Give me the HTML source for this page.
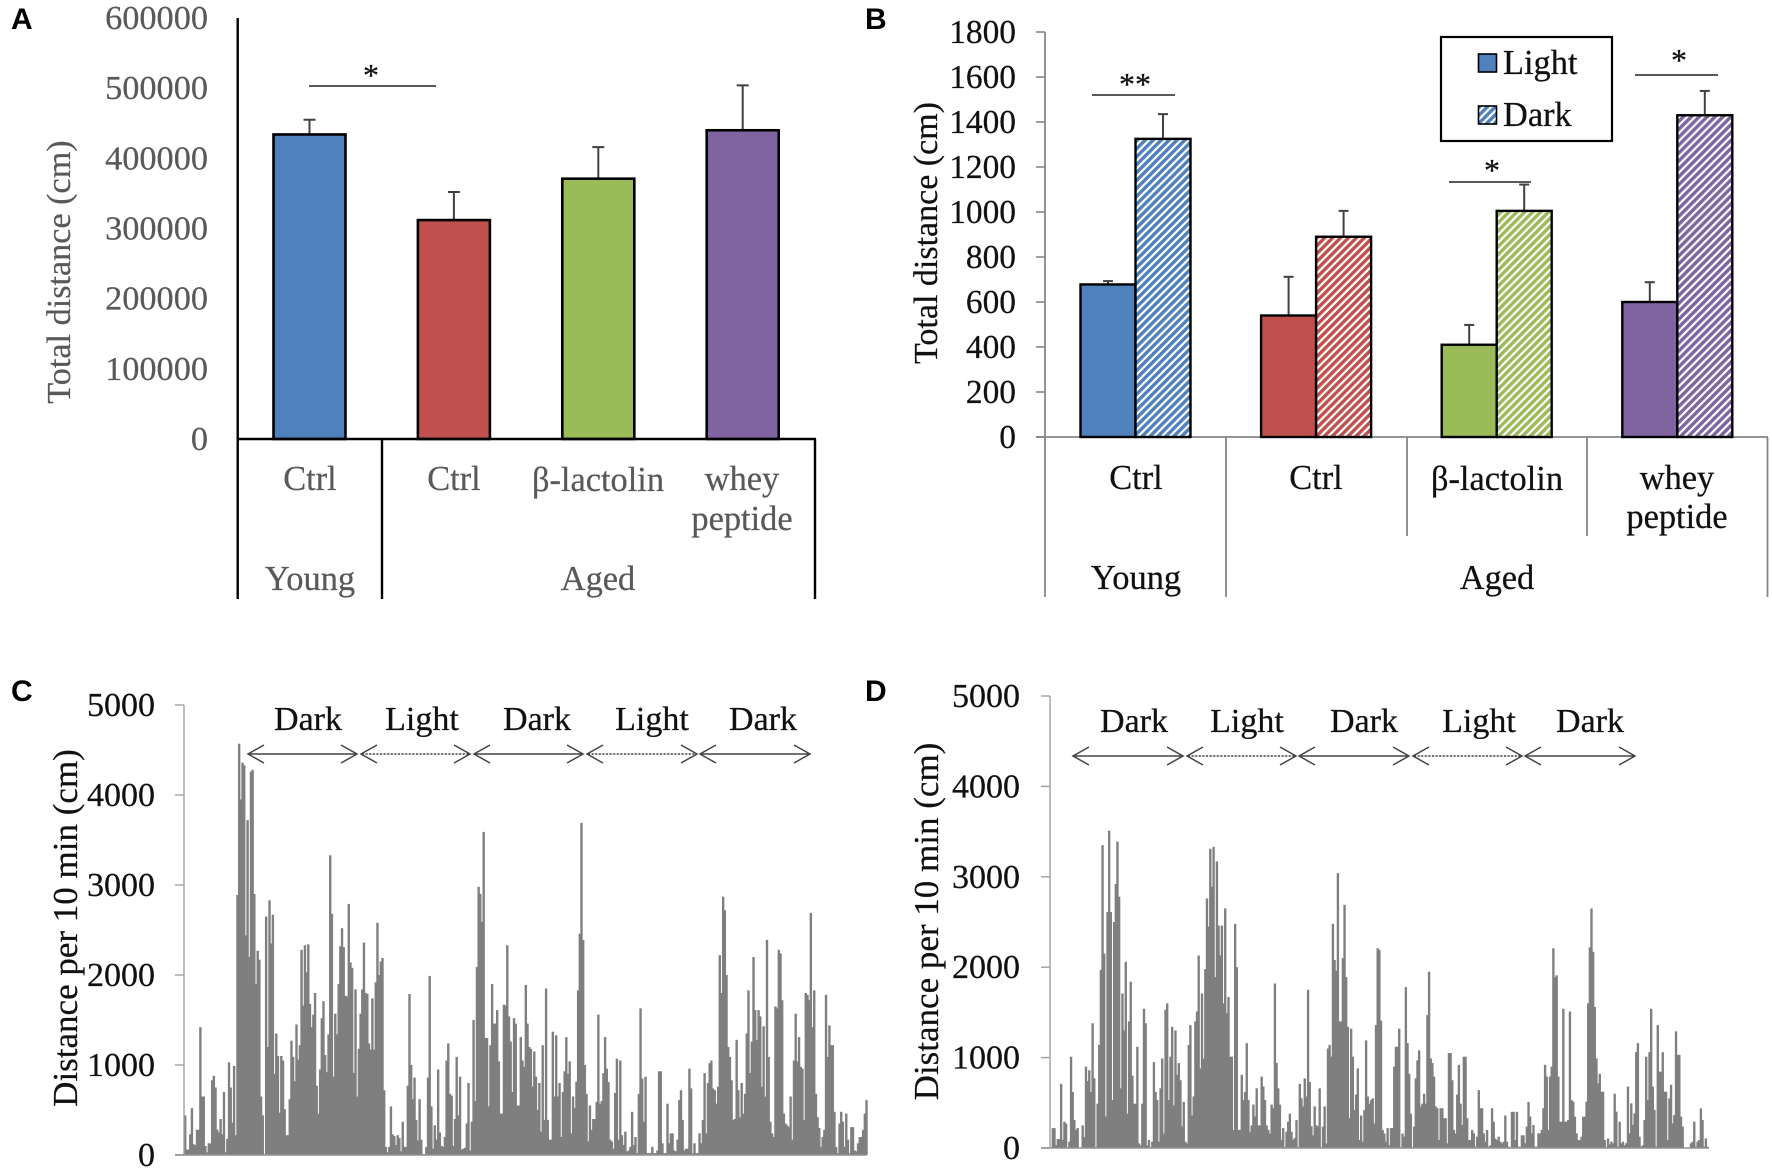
<!DOCTYPE html>
<html lang="en">
<head>
<meta charset="utf-8">
<title>Total distance and activity charts</title>
<style>
html,body{margin:0;padding:0;background:#fff;width:1772px;height:1170px;overflow:hidden}
svg{display:block}
text{font-family:"Liberation Serif",serif;stroke-width:0.25px}
.panel{font-family:"Liberation Sans",sans-serif;font-weight:bold;font-size:30px;fill:#000}
.ga{fill:#595959;stroke:#595959;font-size:34.4px}
.gb{fill:#111;stroke:#111;font-size:34.4px}
.ttl{fill:#595959;stroke:#595959;font-size:34.2px}
.ttb{fill:#111;stroke:#111;font-size:34px}
.dist{fill:#111;stroke:#111;font-size:35px}
.phase{fill:#111;stroke:#111;font-size:34px}
.mid{text-anchor:middle}
</style>
</head>
<body>
<svg id="fig" xmlns="http://www.w3.org/2000/svg" width="1772" height="1170" viewBox="0 0 1772 1170">
<defs>
<pattern id="hatch-0" patternUnits="userSpaceOnUse" width="5.6" height="5.6" patternTransform="rotate(-45)"><rect width="5.6" height="5.6" fill="#fff"/><rect width="5.6" height="3.4" fill="#4f81bd"/></pattern>
<pattern id="hatch-1" patternUnits="userSpaceOnUse" width="5.6" height="5.6" patternTransform="rotate(-45)"><rect width="5.6" height="5.6" fill="#fff"/><rect width="5.6" height="3.4" fill="#c0504d"/></pattern>
<pattern id="hatch-2" patternUnits="userSpaceOnUse" width="5.6" height="5.6" patternTransform="rotate(-45)"><rect width="5.6" height="5.6" fill="#fff"/><rect width="5.6" height="3.4" fill="#9bbb59"/></pattern>
<pattern id="hatch-3" patternUnits="userSpaceOnUse" width="5.6" height="5.6" patternTransform="rotate(-45)"><rect width="5.6" height="5.6" fill="#fff"/><rect width="5.6" height="3.4" fill="#8064a2"/></pattern>
</defs>

<!-- Panel A -->
<g id="panel-a">
  <text class="panel" x="11" y="29">A</text>
  <g id="a-ticks"></g>
  <text class="ttl mid" transform="translate(70,272) rotate(-90)">Total distance (cm)</text>
  <g id="a-bars"></g>
  <g stroke="#000" stroke-width="2.4" fill="none">
    <line x1="237.7" y1="18" x2="237.7" y2="599"/>
    <line x1="236.5" y1="439" x2="816" y2="439"/>
    <line x1="382" y1="439" x2="382" y2="599"/>
    <line x1="815" y1="439" x2="815" y2="599"/>
  </g>
  <text class="ga mid" x="310" y="490">Ctrl</text>
  <text class="ga mid" x="454" y="490">Ctrl</text>
  <text class="ga mid" x="598" y="491">β-lactolin</text>
  <text class="ga mid" x="742" y="490">whey</text>
  <text class="ga mid" x="742" y="530">peptide</text>
  <text class="ga mid" x="310" y="590">Young</text>
  <text class="ga mid" x="598" y="590">Aged</text>
  <line x1="309" y1="86" x2="436" y2="86" stroke="#222" stroke-width="1.6"/>
  <text class="mid" x="371" y="86" font-size="32" fill="#111" stroke="#111">*</text>
</g>

<!-- Panel B -->
<g id="panel-b">
  <text class="panel" x="865" y="29">B</text>
  <g id="b-ticks"></g>
  <text class="ttb mid" transform="translate(937,233) rotate(-90)">Total distance (cm)</text>
  <g stroke="#868686" stroke-width="1.8" fill="none">
    <line x1="1045" y1="32" x2="1045" y2="597"/>
    <line x1="1036" y1="437" x2="1768" y2="437"/>
    <line x1="1226" y1="437" x2="1226" y2="597"/>
    <line x1="1407" y1="437" x2="1407" y2="536"/>
    <line x1="1587" y1="437" x2="1587" y2="536"/>
    <line x1="1767.5" y1="437" x2="1767.5" y2="597"/>
  </g>
  <g id="b-bars"></g>
  <text class="gb mid" x="1136" y="489">Ctrl</text>
  <text class="gb mid" x="1316" y="489">Ctrl</text>
  <text class="gb mid" x="1497" y="490">β-lactolin</text>
  <text class="gb mid" x="1677" y="489">whey</text>
  <text class="gb mid" x="1677" y="528">peptide</text>
  <text class="gb mid" x="1136" y="589">Young</text>
  <text class="gb mid" x="1497" y="589">Aged</text>
  <g>
    <rect x="1441" y="37" width="171" height="104" fill="#fff" stroke="#000" stroke-width="2.2"/>
    <rect x="1478.5" y="54" width="18" height="18" fill="#4f81bd" stroke="#000" stroke-width="1.6"/>
    <text x="1503" y="74" font-size="34.4" fill="#111" stroke="#111">Light</text>
    <rect x="1478.5" y="106" width="18" height="18" fill="url(#hatch-0)" stroke="#000" stroke-width="1.6"/>
    <text x="1503" y="126" font-size="34.4" fill="#111" stroke="#111">Dark</text>
  </g>
  <line x1="1092" y1="95" x2="1175" y2="95" stroke="#222" stroke-width="1.6"/>
  <text class="mid" x="1135" y="95" font-size="32" fill="#111" stroke="#111">**</text>
  <line x1="1449" y1="182" x2="1531" y2="182" stroke="#222" stroke-width="1.6"/>
  <text class="mid" x="1492" y="181" font-size="32" fill="#111" stroke="#111">*</text>
  <line x1="1635" y1="75" x2="1718" y2="75" stroke="#222" stroke-width="1.6"/>
  <text class="mid" x="1679" y="71" font-size="32" fill="#111" stroke="#111">*</text>
</g>

<!-- Panel C -->
<g id="panel-c">
  <text class="panel" x="11" y="701">C</text>
  <g id="c-bars"></g>
  <g id="c-ticks"></g>
  <text class="dist mid" transform="translate(77,928) rotate(-90)">Distance per 10 min (cm)</text>
  <line x1="184" y1="705" x2="184" y2="1155" stroke="#a0a0a0" stroke-width="1.4"/>
  <line x1="175" y1="1155" x2="867" y2="1155" stroke="#909090" stroke-width="1.4"/>
  <text class="phase mid" x="308" y="730">Dark</text>
  <text class="phase mid" x="422" y="730">Light</text>
  <text class="phase mid" x="537" y="730">Dark</text>
  <text class="phase mid" x="652" y="730">Light</text>
  <text class="phase mid" x="763" y="730">Dark</text>
  <g fill="none" stroke="#444" stroke-width="1.5">
    <path d="M264 745 L248 754 L264 763 M248 754 H357 M341 745 L357 754 L341 763"/>
    <path d="M377 745 L361 754 L377 763 M361 754 H470 M454 745 L470 754 L454 763"/>
    <path d="M490 745 L474 754 L490 763 M474 754 H583 M567 745 L583 754 L567 763"/>
    <path d="M603 745 L587 754 L603 763 M587 754 H697 M681 745 L697 754 L681 763"/>
    <path d="M716 745 L700 754 L716 763 M700 754 H810 M794 745 L810 754 L794 763"/>
  </g>
  <g stroke="#fff" stroke-width="1.6" stroke-dasharray="1.6 2">
    <line x1="364" y1="754" x2="468" y2="754"/>
    <line x1="590" y1="754" x2="695" y2="754"/>
  </g>
</g>

<!-- Panel D -->
<g id="panel-d">
  <text class="panel" x="865" y="701">D</text>
  <g id="d-bars"></g>
  <g id="d-ticks"></g>
  <text class="dist mid" transform="translate(938,921.5) rotate(-90)">Distance per 10 min (cm)</text>
  <line x1="1050" y1="696" x2="1050" y2="1148" stroke="#a0a0a0" stroke-width="1.4"/>
  <line x1="1041" y1="1148" x2="1709" y2="1148" stroke="#909090" stroke-width="1.4"/>
  <text class="phase mid" x="1134" y="732">Dark</text>
  <text class="phase mid" x="1247" y="732">Light</text>
  <text class="phase mid" x="1364" y="732">Dark</text>
  <text class="phase mid" x="1479" y="732">Light</text>
  <text class="phase mid" x="1590" y="732">Dark</text>
  <g fill="none" stroke="#444" stroke-width="1.5">
    <path d="M1089 747 L1073 756 L1089 765 M1073 756 H1183 M1167 747 L1183 756 L1167 765"/>
    <path d="M1203 747 L1187 756 L1203 765 M1187 756 H1296 M1280 747 L1296 756 L1280 765"/>
    <path d="M1315 747 L1299 756 L1315 765 M1299 756 H1409 M1393 747 L1409 756 L1393 765"/>
    <path d="M1429 747 L1413 756 L1429 765 M1413 756 H1522 M1506 747 L1522 756 L1506 765"/>
    <path d="M1541 747 L1525 756 L1541 765 M1525 756 H1635 M1619 747 L1635 756 L1619 765"/>
  </g>
  <g stroke="#fff" stroke-width="1.6" stroke-dasharray="1.6 2">
    <line x1="1190" y1="756" x2="1294" y2="756"/>
    <line x1="1416" y1="756" x2="1520" y2="756"/>
  </g>
</g>
</svg>

<script>
// Panel A data
const aTicks = [0, 100000, 200000, 300000, 400000, 500000, 600000];
const aCategories = ['young-ctrl', 'aged-ctrl', 'beta-lactolin', 'whey-peptide'];
const aMeans = [434000, 312000, 371000, 440000];
const aErrors = [21000, 40000, 45000, 64000];

// Panel B data
const bTicks = [0, 200, 400, 600, 800, 1000, 1200, 1400, 1600, 1800];
const bCategories = ['young-ctrl', 'aged-ctrl', 'beta-lactolin', 'whey-peptide'];
const bLight = [678, 540, 410, 600];
const bDark = [1325, 890, 1005, 1430];
const bLightErrors = [15, 172, 88, 88];
const bDarkErrors = [110, 115, 117, 108];

// Panel C data
const activityTicks = [0, 1000, 2000, 3000, 4000, 5000];
const cDistance = [
440,60,60,230,520,120,110,280,280,1420,
650,650,100,30,130,130,830,880,
750,280,250,400,230,700,30,180,1030,750,
360,990,220,2890,4570,3950,4360,4330,2440,3720,
2200,4260,4280,2900,1900,2270,2170,650,440,10,
2650,1200,2830,2350,2670,900,1350,1100,470,1100,
1050,510,220,220,620,1270,1090,820,1450,1060,
1220,2280,1660,2330,2030,2340,1680,1420,1560,
1800,770,460,950,1520,1710,1110,920,1340,3330,
2680,870,1570,1340,1900,2320,2520,2310,1770,1760,
2790,2140,2080,910,1840,650,1180,1570,1840,2360,
1800,1790,1240,1170,1740,1170,1920,2580,2000,2150,
2190,720,90,30,90,540,230,210,110,220,
190,40,370,90,90,770,1790,1000,620,860,
390,160,620,170,10,10,90,860,1990,540,
70,330,170,950,250,100,90,200,1050,1240,
680,660,100,400,1090,440,870,60,70,80,
350,800,50,370,1500,600,2090,2980,2900,2590,
3590,1300,1300,540,1220,1900,1460,1460,1610,1040,
460,460,1670,1660,2330,1540,1260,700,1520,1460,
550,550,1310,1050,980,1890,1460,1200,1180,760,
1150,870,500,800,260,1220,390,1850,390,170,
170,1370,650,1330,650,800,200,700,930,1310,
900,1040,240,650,520,815,1830,2460,3690,2390,
1000,680,150,550,280,400,400,590,1560,570,
600,910,1310,960,810,170,150,70,690,1070,
170,1050,220,110,260,40,50,90,480,110,
200,20,680,1630,850,370,870,20,20,20,90,
20,20,50,930,930,130,20,20,570,130,
240,240,50,40,170,610,720,390,50,70,70,
960,740,20,130,20,20,240,130,390,910,240,
800,1020,1050,740,720,570,760,2220,1800,2870,
2720,2000,1200,1090,830,390,400,1280,720,420,
800,460,680,1350,1830,910,1260,2200,1610,1280,
1610,1540,760,1430,650,2390,1090,370,240,200,
1650,1630,2280,2240,1720,460,350,330,310,650,
170,1050,1570,1040,1310,980,960,390,1800,1780,
1720,2690,1420,1830,680,420,300,90,200,280,
1780,1090,1440,1220,1220,480,90,20,350,480,
370,90,460,170,20,310,310,50,40,130,
200,200,280,460,610
];

// Panel D data
const dDistance = [
0,220,220,30,100,100,710,90,290,270,
10,70,1010,620,310,200,220,0,0,250,
120,900,740,860,620,1380,770,0,490,
1140,1970,3350,2150,350,2610,3510,2610,530,
2500,2920,3390,2780,660,1710,1300,2060,380,1400,
1840,800,490,490,1120,50,30,490,1540,1380,
30,90,0,70,950,620,530,70,660,
990,160,1530,1600,530,1010,1340,470,1300,810,
940,750,240,510,70,50,1140,1360,360,570,
1400,1510,2130,880,1710,990,1980,2760,2450,3310,
2890,3330,1890,3170,2460,2130,2460,1600,2650,1490,
1670,1010,1010,200,2480,2000,200,200,810,530,
620,1160,530,180,250,480,350,660,250,250,
790,680,530,250,200,160,480,440,1820,940,
660,480,90,220,10,180,290,380,180,90,
110,310,10,710,550,460,770,570,1750,730,
240,140,460,250,240,660,0,
236,460,50,1100,1140,1010,2480,2080,1960,3040,
1400,1400,2100,2690,1890,1340,330,1320,1010,420,
590,880,90,360,70,420,1190,570,490,530,
550,270,1360,2210,2190,1410,200,160,70,220,
30,220,220,900,1120,1120,1320,10,160,125,
1780,1160,820,380,0,236,770,970,1080,460,
490,600,490,1470,1950,990,940,790,460,440,
88,440,440,330,330,52,1050,1050,750,200,
160,590,920,490,254,1010,1010,330,88,88,
200,162,15,125,640,440,440,162,70,200,
15,30,440,290,105,88,125,70,52,70,
360,70,15,0,400,400,88,400,15,15,
140,140,52,236,510,350,162,254,15,15,
162,162,200,440,920,790,200,790,900,2210,
1890,1910,790,291,291,1540,291,291,310,1510,
530,512,346,162,88,88,125,346,346,512,
1600,2220,2650,2170,1560,990,715,820,623,623,
88,0,105,40,70,50,600,402,15,291,52,70,30,
52,680,162,494,254,383,1060,1160,125,15,
30,310,1010,530,1060,1540,678,420,15,1360,
844,844,1060,623,623,88,549,700,272,365,
1290,1030,1030,346,236,0,0,0,0,52,
70,291,15,70,88,438,310,15,105,15
];

const SVG_NS = 'http://www.w3.org/2000/svg';
const barFills = ['#4f81bd', '#c0504d', '#9bbb59', '#8064a2'];

// Axis functions
const yA = v => 439 - v / 600000 * 421;
const xA = i => 309.5 + i * 144.4;
const yB = v => 437 - v / 1800 * 405;
const xB = i => 1135.5 + i * 180.6;
const yC = v => 1155 - v / 5000 * 450;
const xC = i => 184 + i * (683 / cDistance.length);
const yD = v => 1148 - v / 5000 * 452;
const xD = i => 1050 + i * (658 / dDistance.length);

function make(tag, parentId, attrs) {
  const el = document.createElementNS(SVG_NS, tag);
  for (const k in attrs) el.setAttribute(k, attrs[k]);
  document.getElementById(parentId).appendChild(el);
  return el;
}

function drawErrorBar(parentId, x, y0, y1, capHalf, name) {
  const stem = make('line', parentId, { x1: x, x2: x, y1: y0, y2: y1, stroke: '#404040', 'stroke-width': 2 });
  
  
  const cap = make('line', parentId, { x1: x - capHalf, x2: x + capHalf, y1: y1, y2: y1, stroke: '#404040', 'stroke-width': 2 });
  
  
}

// Ticks
aTicks.forEach(t => {
  const lab = make('text', 'a-ticks', { x: 208, y: yA(t) + 11, 'text-anchor': 'end', 'font-size': 34.3, fill: '#595959', stroke: '#595959' });
  lab.textContent = String(t);
  
  
});
bTicks.forEach(t => {
  const lab = make('text', 'b-ticks', { x: 1016, y: yB(t) + 11, 'text-anchor': 'end', 'font-size': 33.4, fill: '#111', stroke: '#111' });
  lab.textContent = String(t);
  
  
  const mark = make('line', 'b-ticks', { x1: 1036, x2: 1045, y1: yB(t), y2: yB(t), stroke: '#868686', 'stroke-width': 1.6 });
  
  
});
activityTicks.forEach(t => {
  const lab = make('text', 'c-ticks', { x: 155, y: yC(t) + 11, 'text-anchor': 'end', 'font-size': 34, fill: '#111', stroke: '#111' });
  lab.textContent = String(t);
  
  
  const mark = make('line', 'c-ticks', { x1: 175, x2: 184, y1: yC(t), y2: yC(t), stroke: '#a0a0a0', 'stroke-width': 1.4 });
  
  
});
activityTicks.forEach(t => {
  const lab = make('text', 'd-ticks', { x: 1020, y: yD(t) + 11, 'text-anchor': 'end', 'font-size': 34, fill: '#111', stroke: '#111' });
  lab.textContent = String(t);
  
  
  const mark = make('line', 'd-ticks', { x1: 1041, x2: 1050, y1: yD(t), y2: yD(t), stroke: '#a0a0a0', 'stroke-width': 1.4 });
  
  
});

// Panel A bars
aMeans.forEach((v, i) => {
  drawErrorBar('a-bars', xA(i), yA(v), yA(v + aErrors[i]), 6, 'a-' + aCategories[i]);
  const bar = make('rect', 'a-bars', { x: xA(i) - 36, y: yA(v), width: 72, height: yA(0) - yA(v), fill: barFills[i], stroke: '#000', 'stroke-width': 2.6 });
  
  
});

// Panel B bars
bLight.forEach((v, i) => {
  drawErrorBar('b-bars', xB(i) - 27.5, yB(v), yB(v + bLightErrors[i]), 5, 'b-light-' + bCategories[i]);
  const bar = make('rect', 'b-bars', { x: xB(i) - 55, y: yB(v), width: 55, height: yB(0) - yB(v), fill: barFills[i], stroke: '#000', 'stroke-width': 2.4 });
  
  
});
bDark.forEach((v, i) => {
  drawErrorBar('b-bars', xB(i) + 27.5, yB(v), yB(v + bDarkErrors[i]), 5, 'b-dark-' + bCategories[i]);
  const bar = make('rect', 'b-bars', { x: xB(i), y: yB(v), width: 55, height: yB(0) - yB(v), fill: 'url(#hatch-' + i + ')', stroke: '#000', 'stroke-width': 2.4 });
  
  
});

// Panel C bars
const cBand = 683 / cDistance.length;
cDistance.forEach((v, i) => {
  const bar = make('rect', 'c-bars', { x: xC(i), y: yC(v), width: cBand + 0.7, height: yC(0) - yC(v), fill: '#7f7f7f' });
  
  
});

// Panel D bars
const dBand = 658 / dDistance.length;
dDistance.forEach((v, i) => {
  const bar = make('rect', 'd-bars', { x: xD(i), y: yD(v), width: dBand + 0.7, height: yD(0) - yD(v), fill: '#7f7f7f' });
  
  
});
</script>
</body>
</html>
